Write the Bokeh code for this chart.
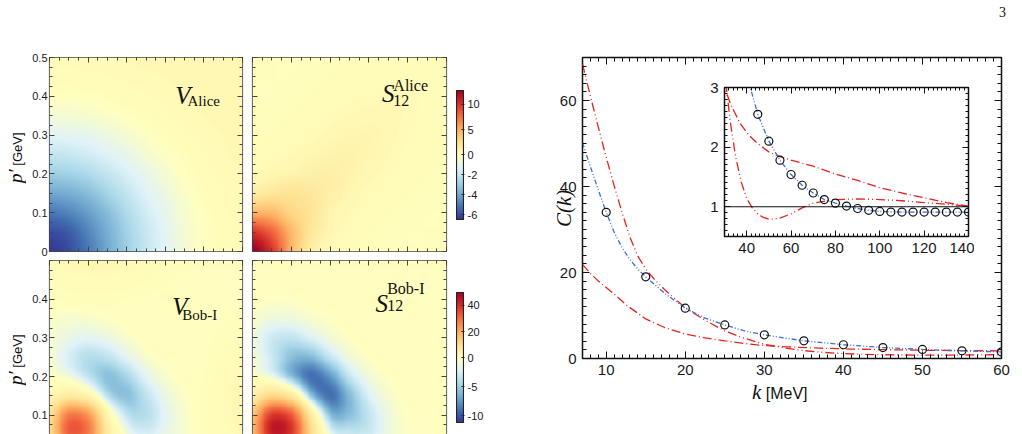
import numpy as np
from bokeh.plotting import figure
from bokeh.models import (Range1d, LinearAxis, FixedTicker, LinearColorMapper,
                          Label, Span, GridBox, Div)
from bokeh.layouts import row, column
from bokeh.embed import file_html
from bokeh.resources import INLINE

# ---------------------------------------------------------------------------
# Potentials on the (p, p') momentum grid.  Nodes are in GeV; every table
# lists rows p' = node j with entries p = node i <= j (symmetric in p <-> p').
# ---------------------------------------------------------------------------
P_NODES = [0.0, 0.05, 0.10, 0.15, 0.20, 0.25, 0.30, 0.35, 0.40, 0.45, 0.50]

V_ALICE = [
    [-6.4],
    [-6.0, -5.7],
    [-5.1, -4.8, -4.2],
    [-4.0, -3.8, -3.4, -2.7],
    [-2.9, -2.8, -2.5, -2.0, -1.45],
    [-2.0, -1.9, -1.65, -1.3, -0.95, -0.45],
    [-1.2, -1.15, -1.0, -0.75, -0.4, -0.1, 0.15],
    [-0.5, -0.45, -0.35, -0.2, 0.0, 0.15, 0.35, 0.45],
    [0.0, 0.0, 0.05, 0.15, 0.3, 0.38, 0.45, 0.5, 0.55],
    [0.3, 0.3, 0.35, 0.38, 0.43, 0.47, 0.5, 0.55, 0.6, 0.6],
    [0.45, 0.45, 0.46, 0.48, 0.5, 0.53, 0.56, 0.6, 0.62, 0.65, 0.7],
]

S12_ALICE = [
    [13.0],
    [10.0, 8.0],
    [4.8, 4.5, 3.0],
    [1.5, 2.0, 2.2, 1.9],
    [0.4, 0.7, 0.9, 1.2, 1.3],
    [0.2, 0.35, 0.5, 0.7, 0.95, 1.0],
    [0.1, 0.2, 0.3, 0.4, 0.6, 0.75, 0.8],
    [0.1, 0.15, 0.2, 0.3, 0.4, 0.5, 0.6, 0.6],
    [0.1, 0.1, 0.15, 0.2, 0.3, 0.35, 0.4, 0.45, 0.45],
    [0.1, 0.1, 0.1, 0.15, 0.2, 0.25, 0.3, 0.35, 0.35, 0.35],
    [0.1, 0.1, 0.1, 0.1, 0.15, 0.2, 0.2, 0.25, 0.3, 0.3, 0.3],
]

V_BOB = [
    [3.7],
    [10.6, 31.4],
    [9.4, 27.6, 23.4],
    [2.4, 6.5, 3.5, -3.8],
    [0.1, -0.9, -3.4, -5.7, -4.5],
    [-0.8, -2.6, -4.0, -3.6, -2.0, -0.5],
    [-0.6, -1.5, -2.0, -1.4, -0.5, 0.1, 0.3],
    [-0.3, -0.6, -0.5, -0.2, 0.1, 0.3, 0.3, 0.3],
    [0.4, 0.5, 0.5, 0.5, 0.4, 0.3, 0.3, 0.3, 0.3],
    [0.8, 1.2, 1.4, 1.4, 1.2, 0.8, 0.5, 0.3, 0.3, 0.3],
    [1.2, 2.0, 2.4, 2.4, 2.0, 1.4, 0.8, 0.5, 0.3, 0.3, 0.3],
]

S12_BOB = [
    [7.2],
    [17.5, 42.7],
    [15.8, 38.2, 33.0],
    [5.1, 11.4, 6.8, -5.1],
    [0.1, -1.3, -5.6, -9.1, -7.5],
    [-0.9, -3.1, -5.7, -6.0, -3.4, -1.1],
    [-1.2, -3.0, -3.5, -2.4, -1.0, -0.1, 0.2],
    [-0.5, -1.2, -1.2, -0.6, -0.1, 0.2, 0.2, 0.2],
    [0.0, -0.2, -0.1, 0.1, 0.2, 0.2, 0.2, 0.2, 0.2],
    [0.3, 0.3, 0.3, 0.3, 0.3, 0.2, 0.2, 0.2, 0.2, 0.2],
    [0.4, 0.4, 0.4, 0.4, 0.3, 0.3, 0.2, 0.2, 0.2, 0.2, 0.2],
]

# colour-bar limits (min, max) and labelled values
ALICE_LIMITS = (-6.5, 12.7)
BOB_LIMITS = (-11.2, 50.0)
ALICE_BAR_TICKS = [10, 5, 0, -2, -4, -6]
BOB_BAR_TICKS = [40, 20, 0, -5, -10]

HEAT_TICKS = [0.0, 0.1, 0.2, 0.3, 0.4, 0.5]
HEAT_TICK_LABELS = ["0", "0.1", "0.2", "0.3", "0.4", "0.5"]
HEAT_TICKS_LOWER = [0.1, 0.2, 0.3, 0.4]
HEAT_MINOR = [0.025 * i for i in range(21)]

# ---------------------------------------------------------------------------
# Correlation function C(k), k in MeV
# ---------------------------------------------------------------------------
K_POINTS = [10, 15, 20, 25, 30, 35, 40, 45, 50, 55, 60, 65, 70, 75, 80, 85,
            90, 95, 100, 105, 110, 115, 120, 125, 130, 135, 140]
C_POINTS = [34.0, 19.0, 11.7, 7.8, 5.5, 4.1, 3.2, 2.55, 2.1, 1.78, 1.54, 1.36,
            1.23, 1.12, 1.06, 1.01, 0.97, 0.94, 0.92, 0.91, 0.91, 0.91, 0.91,
            0.91, 0.91, 0.91, 0.91]

K_BLUE = [7, 8, 9, 10, 11, 12, 13, 14, 15, 17.5, 20, 22.5, 25, 27.5, 30, 35,
          40, 42, 45, 50, 55, 60, 65, 70, 75, 80, 85, 90, 95, 100, 110, 120,
          130, 140]
C_BLUE = [50.2, 44.6, 39.2, 34.0, 29.4, 25.8, 23.0, 20.8, 19.0, 15.0, 11.7,
          9.4, 7.8, 6.4, 5.5, 4.1, 3.2, 2.95, 2.55, 2.1, 1.78, 1.54, 1.36,
          1.23, 1.12, 1.06, 1.01, 0.97, 0.94, 0.92, 0.91, 0.91, 0.91, 0.91]

K_RED_STEEP = [7, 8, 9, 10, 11, 12, 13, 14, 15, 16, 17.5, 20, 22.5, 25, 27.5,
               30, 32.5, 35, 37.5, 40, 42.5, 45, 47.5, 50, 52.5, 55, 60, 65,
               70, 80, 90, 100, 110, 120, 130, 140]
C_RED_STEEP = [68.5, 61.0, 53.8, 46.8, 40.2, 34.0, 28.2, 23.8, 20.8, 18.6,
               15.8, 11.8, 8.9, 6.4, 4.7, 3.3, 2.45, 1.84, 1.42, 1.14, 0.98,
               0.88, 0.82, 0.79, 0.79, 0.81, 0.88, 0.98, 1.06, 1.12, 1.13,
               1.12, 1.10, 1.07, 1.04, 1.01]

K_RED_SOFT = [7, 8, 9, 10, 11, 12.5, 15, 17.5, 20, 22.5, 25, 27.5, 30, 33, 37,
              41, 45, 50, 55, 60, 70, 80, 90, 100, 110, 120, 130, 140]
C_RED_SOFT = [21.9, 19.8, 18.0, 16.5, 15.0, 12.5, 9.2, 7.1, 5.7, 4.8, 4.1, 3.5,
              3.0, 2.7, 2.4, 2.2, 2.06, 1.92, 1.84, 1.78, 1.68, 1.55, 1.44,
              1.32, 1.23, 1.15, 1.07, 1.01]

MAIN_XTICKS = [10, 20, 30, 40, 50, 60]
MAIN_XMINOR = list(range(7, 61))
MAIN_YTICKS = [0, 20, 40, 60]
MAIN_YMINOR = list(range(0, 71, 2))
INSET_XTICKS = [40, 60, 80, 100, 120, 140]
INSET_XMINOR = list(range(30, 141, 2))
INSET_YTICKS = [1, 2, 3]
INSET_YMINOR = [0.5 + 0.1 * i for i in range(26)]

BLUE = "#3a6fd2"
RED = "#e5231f"
SANS = "Liberation Sans"
SERIF = "Liberation Serif"
GRAY = "#454545"
INK = "#111111"

# RdYlBu, running from negative (blue) to positive (red)
RDYLBU = ["#313695", "#4575b4", "#74add1", "#abd9e9", "#e0f3f8", "#ffffbf",
          "#fee090", "#fdae61", "#f46d43", "#d73027", "#a50026"]


def make_palette(colors, n=256):
    rgb = np.array([[int(c[i:i + 2], 16) for i in (1, 3, 5)] for c in colors], float)
    pos = np.linspace(0, 1, len(colors))
    out = []
    for t in np.linspace(0, 1, n):
        r, g, b = (np.interp(t, pos, rgb[:, k]) for k in range(3))
        out.append("#%02x%02x%02x" % (int(round(r)), int(round(g)), int(round(b))))
    return out


MAPPER = LinearColorMapper(palette=make_palette(RDYLBU), low=-1, high=1)


def normalise(v, limits):
    # each side of zero is scaled to its own end of the colour bar
    lo, hi = limits
    v = np.asarray(v, float)
    return np.clip(np.where(v >= 0, v / hi, v / (-lo)), -1, 1)


def full_table(tri):
    n = len(tri)
    m = np.zeros((n, n))
    for j, r in enumerate(tri):
        for i, v in enumerate(r):
            m[j, i] = v
            m[i, j] = v
    return m


def cubic_matrix(n_nodes, n_out):
    # Catmull-Rom weights for sampling the node table at pixel centres
    x = (np.arange(n_out) + 0.5) / n_out * (n_nodes - 1)
    i = np.clip(np.floor(x).astype(int), 0, n_nodes - 2)
    t = x - i
    weights = [(-t ** 3 + 2 * t ** 2 - t) / 2,
               (3 * t ** 3 - 5 * t ** 2 + 2) / 2,
               (-3 * t ** 3 + 4 * t ** 2 + t) / 2,
               (t ** 3 - t ** 2) / 2]
    m = np.zeros((n_out, n_nodes))
    rows = np.arange(n_out)
    for k, w in enumerate(weights):
        idx = np.clip(i + k - 1, 0, n_nodes - 1)
        np.add.at(m, (rows, idx), w)
    return m


def field_image(tri, n_out=220):
    g = full_table(tri)
    m = cubic_matrix(len(P_NODES), n_out)
    return m @ g @ m.T


def frame_axis(p, side, ticks, minor, color, major_len, minor_len,
               labelled=False, size="11px", standoff=2, overrides=None):
    ax = LinearAxis(ticker=FixedTicker(ticks=ticks, minor_ticks=minor))
    ax.major_tick_in = major_len
    ax.major_tick_out = 0
    ax.minor_tick_in = minor_len
    ax.minor_tick_out = 0
    ax.major_tick_line_color = color
    ax.minor_tick_line_color = color
    ax.axis_line_color = None
    if labelled:
        ax.major_label_text_font = SANS
        ax.major_label_text_font_size = size
        ax.major_label_text_color = "#1a1a1a"
        ax.major_label_standoff = standoff
        if overrides:
            ax.major_label_overrides = overrides
    else:
        # tick marks only on this side of the frame
        ax.major_label_text_color = None
        ax.major_label_text_font_size = "1px"
        ax.major_label_standoff = 0
    p.add_layout(ax, side)
    return ax


def text(p, x, y, s, font=SERIF, style="normal", size="15px",
         align="left", baseline="alphabetic", color=INK):
    p.add_layout(Label(x=x, y=y, text=s, text_font=font, text_font_style=style,
                       text_font_size=size, text_align=align,
                       text_baseline=baseline, text_color=color))


def base_figure(width, height, xr, yr, borders):
    l, r, t, b = borders
    p = figure(width=width, height=height, x_range=Range1d(*xr),
               y_range=Range1d(*yr), tools="", toolbar_location=None,
               output_backend="svg", x_axis_location=None, y_axis_location=None,
               min_border_left=l, min_border_right=r, min_border_top=t,
               min_border_bottom=b)
    p.grid.visible = False
    return p


def heat_panel(tri, limits, width, height, borders, y_low, left_labels,
               lower_row):
    p = base_figure(width, height, (0, 0.5), (y_low, 0.5), borders)
    p.outline_line_color = GRAY
    p.outline_line_width = 1.2
    p.image(image=[normalise(field_image(tri), limits)], x=0, y=0, dw=0.5,
            dh=0.5, color_mapper=MAPPER)
    if not lower_row:
        frame_axis(p, "below", HEAT_TICKS, HEAT_MINOR, GRAY, 5, 3)
    frame_axis(p, "above", HEAT_TICKS, HEAT_MINOR, GRAY, 5, 3)
    frame_axis(p, "right", HEAT_TICKS, HEAT_MINOR, GRAY, 5, 3)
    if left_labels:
        if lower_row:
            frame_axis(p, "left", HEAT_TICKS_LOWER, HEAT_MINOR, GRAY, 5, 3,
                       labelled=True, standoff=2)
        else:
            frame_axis(p, "left", HEAT_TICKS, HEAT_MINOR, GRAY, 5, 3,
                       labelled=True, standoff=2,
                       overrides=dict(zip(HEAT_TICKS, HEAT_TICK_LABELS)))
    else:
        frame_axis(p, "left", HEAT_TICKS, HEAT_MINOR, GRAY, 5, 3)
    return p


def colour_bar(limits, ticks, height, borders, y_span):
    # the bar fills -1..1 of a frame that shares the panel row's borders
    p = base_figure(42, height, (-0.15, 1.15), y_span, borders)
    p.outline_line_color = None
    p.image(image=[np.linspace(-1, 1, 256).reshape(-1, 1)], x=0, y=-1, dw=1,
            dh=2, color_mapper=MAPPER)
    p.quad(left=0, right=1, bottom=-1, top=1, fill_color=None,
           line_color="#222222", line_width=1.1)
    pos = [float(v) for v in normalise(ticks, limits)]
    frame_axis(p, "right", pos, [], "#222222", 3, 0, labelled=True,
               size="11px", standoff=3,
               overrides={ps: str(t) for ps, t in zip(pos, ticks)})
    return p


# ---------------------------- left block -----------------------------------
v_alice = heat_panel(V_ALICE, ALICE_LIMITS, 247, 259, (49, 5, 57, 8), 0.0,
                     True, False)
text(v_alice, 0.326, 0.402, "V", style="italic", size="25px")
text(v_alice, 0.3575, 0.388, "Alice", size="15px")

s_alice = heat_panel(S12_ALICE, ALICE_LIMITS, 204, 259, (5, 5, 57, 8), 0.0,
                     False, False)
text(s_alice, 0.334, 0.407, "S", style="italic", size="25px")
text(s_alice, 0.363, 0.428, "Alice", size="16px")
text(s_alice, 0.363, 0.389, "12", size="16px")

bar_alice = colour_bar(ALICE_LIMITS, ALICE_BAR_TICKS, 259, (4, 29, 57, 8),
                       (-1.4961, 1.5116))

v_bob = heat_panel(V_BOB, BOB_LIMITS, 247, 175, (49, 5, 1, 0), 0.05,
                   True, True)
text(v_bob, 0.318, 0.381, "V", style="italic", size="25px")
text(v_bob, 0.344, 0.360, "Bob-I", size="15px")

s_bob = heat_panel(S12_BOB, BOB_LIMITS, 204, 175, (5, 5, 1, 0), 0.05,
                   False, True)
text(s_bob, 0.317, 0.389, "S", style="italic", size="25px")
text(s_bob, 0.347, 0.427, "Bob-I", size="16px")
text(s_bob, 0.347, 0.384, "12", size="16px")

bar_bob = colour_bar(BOB_LIMITS, BOB_BAR_TICKS, 175, (4, 29, 1, 0),
                     (-1.1846, 1.4923))

left_block = column(row(v_alice, s_alice, bar_alice),
                    row(v_bob, s_bob, bar_bob))


# ---------------------------- C(k) panel -----------------------------------
def draw_curves(p, size):
    p.line(K_RED_STEEP, C_RED_STEEP, line_color=RED, line_width=1.3,
           line_dash="9 3 1 3 1 3")
    p.line(K_RED_SOFT, C_RED_SOFT, line_color=RED, line_width=1.3,
           line_dash="9 3 1 3")
    p.line(K_BLUE, C_BLUE, line_color=BLUE, line_width=1.3,
           line_dash="5 2 1 2 1 2")
    p.scatter(K_POINTS, C_POINTS, marker="circle", size=size, fill_color=None,
              line_color=INK, line_width=1.2)


main = base_figure(529, 434, (7, 60), (0, 70), (89, 21, 57, 76))
main.outline_line_color = INK
main.outline_line_width = 1.5
draw_curves(main, 8)
frame_axis(main, "below", MAIN_XTICKS, MAIN_XMINOR, INK, 7, 4,
           labelled=True, size="15px", standoff=6)
frame_axis(main, "left", MAIN_YTICKS, MAIN_YMINOR, INK, 7, 4,
           labelled=True, size="15px", standoff=6)
frame_axis(main, "above", MAIN_XTICKS, MAIN_XMINOR, INK, 7, 4)
frame_axis(main, "right", MAIN_YTICKS, MAIN_YMINOR, INK, 7, 4)

inset = base_figure(274, 192, (30, 140), (0.5, 3), (24, 6, 17, 26))
inset.outline_line_color = INK
inset.outline_line_width = 1.5
inset.add_layout(Span(location=1, dimension="width", line_color=INK,
                      line_width=1.1))
draw_curves(inset, 8)
frame_axis(inset, "below", INSET_XTICKS, INSET_XMINOR, INK, 6, 3,
           labelled=True, size="15px", standoff=6)
frame_axis(inset, "left", INSET_YTICKS, INSET_YMINOR, INK, 6, 3,
           labelled=True, size="15px", standoff=6)
frame_axis(inset, "above", INSET_XTICKS, INSET_XMINOR, INK, 6, 3)
frame_axis(inset, "right", INSET_YTICKS, INSET_YMINOR, INK, 6, 3)
inset.margin = (70, 0, 0, 700)

right_block = GridBox(children=[(main, 0, 0)])


# ------------------------- captions outside frames --------------------------
def caption(html, left, top, width, height):
    return Div(text=html, width=width, height=height, margin=(top, 0, 0, left))


VERTICAL = ("writing-mode:vertical-rl;text-orientation:sideways;"
            "transform:rotate(180deg);white-space:nowrap;text-align:center;")


def p_label(top):
    return caption(
        '<div style="%sheight:80px;width:20px;line-height:20px;color:#111">'
        '<span style="font-family:\'Liberation Serif\';font-style:italic;'
        'font-size:19px">p&#8242;</span>'
        '<span style="font-family:\'Liberation Sans\';font-size:13px">'
        '&nbsp;[GeV]</span></div>' % VERTICAL, 6, top, 20, 80)


ck_label = caption(
    '<div style="%sheight:60px;width:20px;line-height:20px;color:#111;'
    'font-family:\'Liberation Serif\';font-style:italic;font-size:21px">'
    'C(k)</div>' % VERTICAL, 554, 178, 20, 60)

k_label = caption(
    '<div style="white-space:nowrap;line-height:21px;color:#111">'
    '<span style="font-family:\'Liberation Serif\';font-style:italic;'
    'font-size:21px">k</span>'
    '<span style="font-family:\'Liberation Sans\';font-size:16px">'
    '&nbsp;[MeV]</span></div>', 752, 382, 80, 24)

page_no = caption(
    '<div style="line-height:14px;font-family:\'Liberation Serif\';'
    'font-size:14px;color:#111">3</div>', 999, 5, 14, 16)

page = GridBox(children=[(row(left_block, right_block), 0, 0), (inset, 0, 0),
                         (p_label(118), 0, 0), (p_label(320), 0, 0),
                         (ck_label, 0, 0), (k_label, 0, 0), (page_no, 0, 0)])

with open("out.html", "w") as fh:
    fh.write(file_html(page, INLINE))
